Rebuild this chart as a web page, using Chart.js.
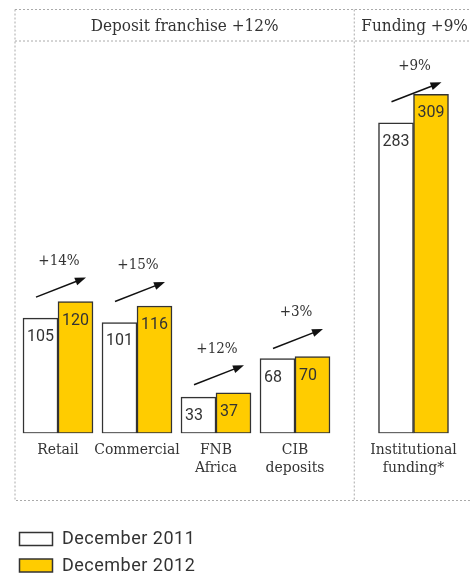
<!DOCTYPE html>
<html>
<head>
<meta charset="utf-8">
<script src="https://cdn.jsdelivr.net/npm/chart.js@4"></script>
<style>
  html, body { margin: 0; padding: 0; background: #fff; }
  #wrap { position: relative; width: 470px; height: 576px; }
</style>
</head>
<body>
<div id="wrap"><canvas id="depositChart"></canvas></div>
<script>
// deposit and funding balances (R billion)
const categories = [['Retail'], ['Commercial'], ['FNB', 'Africa'], ['CIB', 'deposits'], ['Institutional', 'funding*']];
const slots = [0, 1, 2, 3, 4.5];          // funding sits apart from the deposit bars
const dec2011 = [105, 101, 33, 68, 283];
const dec2012 = [120, 116, 37, 70, 309];
const seriesLabels = ['December 2011', 'December 2012'];
const groupNames = ['Deposit franchise', 'Funding'];
const groupOf = [0, 0, 0, 0, 1];

const serif = "'DejaVu Serif Condensed', 'DejaVu Serif', serif";
const sans = "Roboto, 'DejaVu Sans', sans-serif";
const ink = '#333';
const yellow = '#ffcc00';

function pct(a, b) {
  return '+' + Math.round((b / a - 1) * 100) + '%';
}
function sum(arr, g) {
  return arr.reduce((t, v, i) => groupOf[i] === g ? t + v : t, 0);
}

// frame, header row, growth arrows, value labels and legend
const annotations = {
  id: 'annotations',
  beforeDatasetsDraw(chart) {
    const ctx = chart.ctx;
    const x = chart.scales.x;
    const left = 15, right = 475, top = 9.5, head = 41, bottom = 500.5;
    const divider = x.getPixelForValue((slots[3] + slots[4]) / 2);
    ctx.save();
    ctx.strokeStyle = '#aaa';
    ctx.lineWidth = 1;
    ctx.setLineDash([2, 2]);
    ctx.beginPath();
    ctx.rect(left, top, right - left, bottom - top);
    ctx.moveTo(left, head); ctx.lineTo(right, head);
    ctx.moveTo(divider, top); ctx.lineTo(divider, bottom);
    ctx.stroke();
    ctx.setLineDash([]);

    ctx.fillStyle = ink;
    ctx.font = '17px ' + serif;
    ctx.textAlign = 'center';
    ctx.textBaseline = 'middle';
    groupNames.forEach((name, g) => {
      const cx = g === 0 ? (left + divider) / 2 : (divider + right) / 2;
      ctx.fillText(name + ' ' + pct(sum(dec2011, g), sum(dec2012, g)), cx, (top + head) / 2 + 1);
    });
    ctx.restore();
  },
  afterDatasetsDraw(chart) {
    const ctx = chart.ctx;
    const x = chart.scales.x, y = chart.scales.y;
    const bars0 = chart.getDatasetMeta(0).data;
    const bars1 = chart.getDatasetMeta(1).data;
    ctx.save();

    // values inside the bars
    ctx.font = '16px ' + sans;
    ctx.fillStyle = ink;
    ctx.textAlign = 'left';
    ctx.textBaseline = 'middle';
    [bars0, bars1].forEach((bars, d) => {
      const vals = d === 0 ? dec2011 : dec2012;
      bars.forEach((b, i) => {
        ctx.fillText(String(vals[i]), b.x - b.width / 2 + 4, b.y + 19);
      });
    });

    // growth arrows
    slots.forEach((s, i) => {
      const cx = x.getPixelForValue(s);
      const sy = Math.max(y.getPixelForValue(dec2011[i]) - 21, y.getPixelForValue(dec2012[i]) - 8);
      const sx = cx - 22;
      const ex = sx + 50, ey = sy - 19.5;
      const ang = Math.atan2(ey - sy, ex - sx);
      ctx.strokeStyle = '#111';
      ctx.fillStyle = '#111';
      ctx.lineWidth = 1.5;
      ctx.beginPath();
      ctx.moveTo(sx, sy);
      ctx.lineTo(ex - 8 * Math.cos(ang), ey - 8 * Math.sin(ang));
      ctx.stroke();
      ctx.beginPath();
      ctx.moveTo(ex, ey);
      ctx.lineTo(ex - 11 * Math.cos(ang) + 4 * Math.sin(ang), ey - 11 * Math.sin(ang) - 4 * Math.cos(ang));
      ctx.lineTo(ex - 11 * Math.cos(ang) - 4 * Math.sin(ang), ey - 11 * Math.sin(ang) + 4 * Math.cos(ang));
      ctx.closePath();
      ctx.fill();

      ctx.fillStyle = ink;
      ctx.font = '15px ' + serif;
      ctx.textAlign = 'center';
      ctx.fillText(pct(dec2011[i], dec2012[i]), cx + 1, sy - 36);
    });
    ctx.restore();
  },
  afterDraw(chart) {
    const ctx = chart.ctx;
    const fills = ['#fff', yellow];
    ctx.save();
    ctx.font = '18px ' + sans;
    ctx.letterSpacing = '0.5px';
    ctx.textAlign = 'left';
    ctx.textBaseline = 'middle';
    seriesLabels.forEach((label, i) => {
      const by = 532.5 + i * 26.5;
      ctx.fillStyle = fills[i];
      ctx.fillRect(19.5, by, 33, 13);
      ctx.strokeStyle = ink;
      ctx.lineWidth = 1.5;
      ctx.strokeRect(19.5, by, 33, 13);
      ctx.fillStyle = ink;
      ctx.fillText(label, 62, by + 7);
    });
    ctx.restore();
  }
};

const toPoints = vals => vals.map((v, i) => ({ x: slots[i], y: v }));

new Chart(document.getElementById('depositChart'), {
  type: 'bar',
  data: {
    datasets: [{
      label: seriesLabels[0],
      data: toPoints(dec2011),
      backgroundColor: '#fff',
      borderColor: ink,
      borderWidth: 1.5,
      borderSkipped: false,
      barThickness: 35
    }, {
      label: seriesLabels[1],
      data: toPoints(dec2012),
      backgroundColor: yellow,
      borderColor: ink,
      borderWidth: 1.5,
      borderSkipped: false,
      barThickness: 35
    }]
  },
  options: {
    responsive: true,
    maintainAspectRatio: false,
    animation: false,
    layout: { padding: { top: 49.3, bottom: 92.7, left: 18.5, right: 5.15 } },
    scales: {
      x: {
        type: 'linear',
        min: -0.5,
        max: 5.15,
        offset: false,
        grid: { display: false, drawTicks: false },
        border: { display: false },
        afterBuildTicks: s => { s.ticks = slots.map(v => ({ value: v })); },
        afterFit: s => { s.height = 50; },
        ticks: {
          autoSkip: false,
          maxRotation: 0,
          padding: 8,
          color: ink,
          font: { family: serif, size: 15.5, lineHeight: 1.16 },
          callback: v => categories[slots.indexOf(v)]
        }
      },
      y: {
        display: false,
        min: 0,
        max: 350
      }
    },
    plugins: {
      legend: { display: false },
      tooltip: { enabled: false }
    }
  },
  plugins: [annotations]
});
</script>
</body>
</html>
